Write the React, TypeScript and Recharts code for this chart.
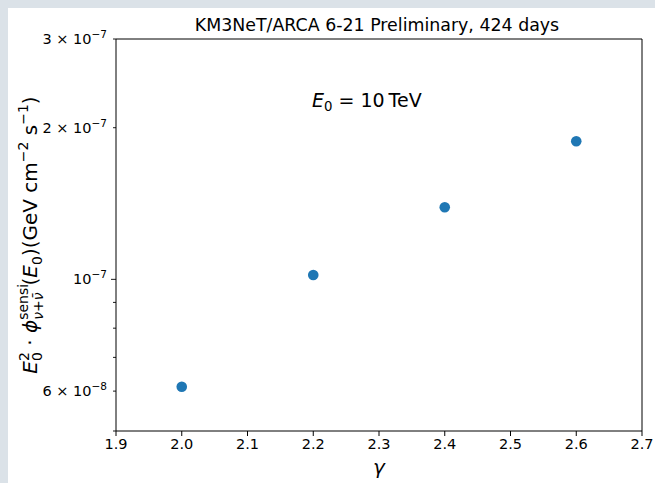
import { ScatterChart, Scatter, XAxis, YAxis, ReferenceLine } from 'recharts';

const gammaValues = [2.0, 2.2, 2.4, 2.6];
const sensitivityValues = [6.12e-8, 1.02e-7, 1.39e-7, 1.88e-7];

const xTicks = [1.9, 2.0, 2.1, 2.2, 2.3, 2.4, 2.5, 2.6, 2.7];
const yTicks = [5e-8, 6e-8, 7e-8, 8e-8, 9e-8, 1e-7, 2e-7, 3e-7];
// mantissa / exponent pairs for labelled y ticks
const yTickLabels: Record<string, [string, string]> = {
  '6e-8': ['6 × 10', '−8'],
  '1e-7': ['10', '−7'],
  '2e-7': ['2 × 10', '−7'],
  '3e-7': ['3 × 10', '−7'],
};

const data = gammaValues.map((g, i) => ({ gamma: g, flux: sensitivityValues[i] }));

const FONT = '"DejaVu Sans", sans-serif';

const YTick = (props: any) => {
  const { x, y, payload } = props;
  const key = Number(payload.value).toExponential(0).replace('+', '');
  const label = yTickLabels[key];
  const major = key === '1e-7';
  const len = major ? 5 : 3;
  return (
    <g>
      <line x1={x - len} x2={x} y1={y} y2={y} stroke="#000" strokeWidth={0.9} />
      {label && (
        <text x={x - 9} y={y + 5} textAnchor="end" fontFamily={FONT} fontSize={14.5} fill="#000">
          <tspan>{label[0]}</tspan>
          <tspan dy={-6} fontSize={10.5}>{label[1]}</tspan>
        </text>
      )}
    </g>
  );
};

const Dot = (props: any) => {
  const { cx, cy } = props;
  return <circle cx={cx} cy={cy} r={5.3} fill="#1f77b4" />;
};

export default function App() {
  return (
    <div style={{ position: 'fixed', left: 0, top: 0, width: 655, height: 483, background: '#dbe2e8' }}>
      <div style={{ position: 'absolute', left: 8, top: 8, width: 647, height: 475, background: '#fff' }} />
      <div style={{ position: 'absolute', left: 0, top: 0 }}>
        <ScatterChart
          width={655}
          height={483}
          margin={{ top: 39, right: 13, bottom: 22, left: 16 }}
        >
          <XAxis
            type="number"
            dataKey="gamma"
            domain={[1.9, 2.7]}
            ticks={xTicks}
            tickFormatter={(v: number) => v.toFixed(1)}
            height={30}
            stroke="#000"
            tickSize={5}
            tickMargin={3}
            tick={{ fill: '#000', fontSize: 14.5, fontFamily: FONT }}
            allowDataOverflow
          />
          <YAxis
            type="number"
            dataKey="flux"
            scale="log"
            domain={[5e-8, 3e-7]}
            ticks={yTicks}
            width={100}
            stroke="#000"
            tickSize={0}
            tickMargin={0}
            tickLine={false}
            tick={<YTick />}
            interval={0}
            allowDataOverflow
          />
          <ReferenceLine y={3e-7} stroke="#000" strokeWidth={1} ifOverflow="visible" />
          <ReferenceLine x={2.7} stroke="#000" strokeWidth={1} ifOverflow="visible" />
          <Scatter data={data} shape={<Dot />} isAnimationActive={false} />
        </ScatterChart>
      </div>
      <svg
        width={655}
        height={483}
        style={{ position: 'absolute', left: 0, top: 0, pointerEvents: 'none' }}
        fontFamily={FONT}
      >
        <text x={377} y={31} textAnchor="middle" fontSize={17.4} fill="#000">
          KM3NeT/ARCA 6-21 Preliminary, 424 days
        </text>
        <text x={312} y={107} fontSize={19} fill="#000">
          <tspan fontStyle="italic">E</tspan>
          <tspan fontSize={13.3} dy={4}>0</tspan>
          <tspan dy={-4} dx={6}>=</tspan>
          <tspan dx={6}>10</tspan>
          <tspan dx={4}>TeV</tspan>
        </text>
        <text x={379} y={474} textAnchor="middle" fontSize={20} fontStyle="italic" fill="#000">
          γ
        </text>
        <text
          transform="translate(37,235) rotate(-90)"
          x={0}
          y={0}
          textAnchor="middle"
          fontSize={20}
          fill="#000"
        >
          <tspan fontStyle="italic">E</tspan>
          <tspan fontSize={14} dy={5}>0</tspan>
          <tspan fontSize={14} dy={-13} dx={-8.9}>2</tspan>
          <tspan dy={8}> · </tspan>
          <tspan fontStyle="italic">ϕ</tspan>
          <tspan fontSize={14} dy={-9}>sensi</tspan>
          <tspan fontSize={14} fontStyle="italic" dy={15} dx={-36}>ν+ν̄</tspan>
          <tspan dy={-6} dx={7}>(</tspan>
          <tspan fontStyle="italic">E</tspan>
          <tspan fontSize={14} dy={5}>0</tspan>
          <tspan dy={-5}>)(GeV cm</tspan>
          <tspan fontSize={14} dy={-9}>−2</tspan>
          <tspan dy={9}> s</tspan>
          <tspan fontSize={14} dy={-9}>−1</tspan>
          <tspan dy={9}>)</tspan>
        </text>
      </svg>
    </div>
  );
}
